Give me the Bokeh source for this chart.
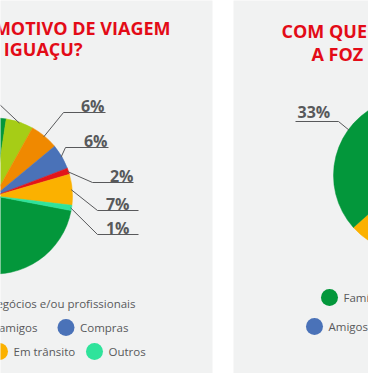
import math
from bokeh.plotting import figure
from bokeh.models import Range1d
from bokeh.core.properties import value
from bokeh.embed import file_html
from bokeh.resources import INLINE

# ---------------- data ----------------
left_categories = ["Lazer/Turismo", "Negócios e/ou profissionais", "Visita a parentes e amigos",
                   "Compras", "Eventos", "Em trânsito", "Outros"]
left_values = [74.4, 5.7, 5.9, 5.2, 1.3, 6.4, 1.1]          # slice shares
left_labels = ["", "6%", "6%", "6%", "2%", "7%", "1%"]
left_colors = ["#03973b", "#a6cd16", "#f08900", "#4a72b8", "#e3151a", "#fbb100", "#2fe39b"]

right_categories = ["Outros", "Família"]
right_values = [20, 33]
right_labels = ["", "33%"]
right_colors = ["#fbb100", "#03973b"]

legend_left = ["Negócios e/ou profissionais", "Visita a parentes e amigos", "Compras", "Em trânsito", "Outros"]
legend_left_colors = ["#a6cd16", "#f08900", "#4a72b8", "#fbb100", "#2fe39b"]
legend_right = ["Família", "Amigos"]
legend_right_colors = ["#03973b", "#4a72b8"]

title_left = ["QUAL O MOTIVO DE VIAGEM", "A FOZ DO IGUAÇU?"]
title_right = ["COM QUEM VIAJOU", "A FOZ DO IGUAÇU?"]

# ---------------- layout ----------------
W, H = 368, 373
def Y(py):
    return H - py

p = figure(width=W, height=H, x_range=Range1d(0, W), y_range=Range1d(0, H),
           output_backend="svg", toolbar_location=None, min_border=0)
p.axis.visible = False
p.grid.visible = False
p.outline_line_color = None
p.background_fill_color = "white"
p.border_fill_color = "white"

PANEL = "#f1f2f2"
p.quad(left=[-40, 233], right=[212, 420], bottom=[Y(400)] * 2, top=[Y(-20)] * 2,
       fill_color=PANEL, line_color=None)

RED = "#e30b17"
GREY = "#58595b"
FONT = value("Open Sans")

# titles (vertical centres of the capitals)
p.text(x=[170, 82], y=[Y(27), Y(48)], text=title_left, text_font=FONT, text_font_style="bold",
       text_font_size="18px", text_color=RED, text_align="right", text_baseline="middle")
p.text(x=[281, 311], y=[Y(30), Y(53.5)], text=title_right, text_font=FONT, text_font_style="bold",
       text_font_size="18px", text_color=RED, text_align="left", text_baseline="middle")

R = 78

def draw_pie(cx, cy, values, colors, start_deg):
    """start_deg: clockwise from 12 o'clock, pixel coordinates for the centre"""
    total = float(sum(values))
    theta = start_deg
    mids = []
    for v, c in zip(values, colors):
        span = v / total * 360.0
        t1, t2 = theta, theta + span
        p.wedge(x=[cx], y=[Y(cy)], radius=R,
                start_angle=[math.radians(90 - t2)], end_angle=[math.radians(90 - t1)],
                fill_color=c, line_color=c, line_width=0.5)
        mids.append((t1 + t2) / 2)
        theta = t2
    return mids

def edge(cx, cy, deg, r):
    return cx + r * math.sin(math.radians(deg)), cy - r * math.cos(math.radians(deg))

# left pie (green slice starts at 100.8 deg clockwise from 12 o'clock)
LCX, LCY = -6, 195.5
mids = draw_pie(LCX, LCY, left_values, left_colors, 100.8)

# label layout: (elbow_x, elbow_y, end_x, text_right_x)
left_label_layout = [None, (-3, 102, -45, -48), (63, 112, 105, 104), (65, 147, 108, 107),
                     (92, 182, 133, 133), (97, 210, 138, 129), (97, 234, 138, 129)]
for m, lab, lay in zip(mids, left_labels, left_label_layout):
    if lay is None:
        continue
    sx, sy = edge(LCX, LCY, m, R - 1)
    ex, ey, endx, tx = lay
    p.line(x=[sx, ex, endx], y=[Y(sy), Y(ey), Y(ey)], line_color=GREY, line_width=1)
    if lab:
        p.text(x=[tx], y=[Y(ey - 7)], text=[lab], text_font=FONT, text_font_style="bold",
               text_font_size="16px", text_color=GREY, text_align="right", text_baseline="middle")

# right pie: Família ends its slice at 228.2 deg (counter-clockwise side)
RCX, RCY = 411, 175
total_r = float(sum(right_values))
rmids = draw_pie(RCX, RCY, right_values, right_colors, 228.2 - right_values[0] / total_r * 360)
sx, sy = edge(RCX, RCY, 306, R - 1)
p.line(x=[sx, 338, 295], y=[Y(sy), Y(121), Y(121)], line_color=GREY, line_width=1)
p.text(x=[297], y=[Y(111)], text=[right_labels[1]], text_font=FONT, text_font_style="bold",
       text_font_size="16px", text_color=GREY, text_align="left", text_baseline="middle")

# legends
LFS = "11.5px"
p.text(x=[135, 37], y=[Y(303), Y(327)], text=legend_left[:2], text_font=FONT, text_font_size=LFS,
       text_color=GREY, text_align="right", text_baseline="middle")
cx_list = [65.5, -1, 94]
cy_list = [327, 351, 351]
p.scatter(x=cx_list, y=[Y(v) for v in cy_list], size=17, marker="circle",
          fill_color=legend_left_colors[2:], line_color=None)
p.text(x=[c + 14 for c in cx_list], y=[Y(v) for v in cy_list], text=legend_left[2:], text_font=FONT,
       text_font_size=LFS, text_color=GREY, text_align="left", text_baseline="middle")

rcx = [329, 314]
rcy = [297, 326]
p.scatter(x=rcx, y=[Y(v) for v in rcy], size=17, marker="circle",
          fill_color=legend_right_colors, line_color=None)
p.text(x=[c + 14 for c in rcx], y=[Y(v) for v in rcy], text=legend_right, text_font=FONT,
       text_font_size=LFS, text_color=GREY, text_align="left", text_baseline="middle")

open("out.html", "w").write(file_html(p, INLINE))
